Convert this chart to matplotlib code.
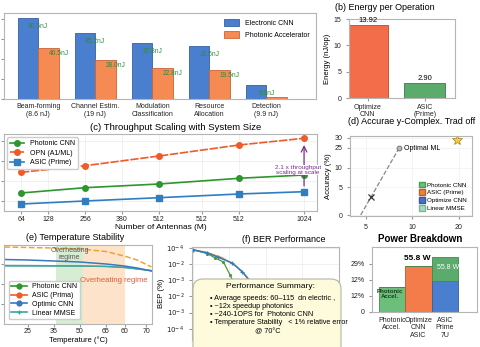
import numpy as np
import matplotlib.pyplot as plt
from matplotlib.patches import FancyBboxPatch, Patch
from matplotlib.lines import Line2D

plt.rcParams['font.family'] = ['Liberation Sans', 'DejaVu Sans']
plt.rcParams['axes.edgecolor'] = '#b5b5b5'
plt.rcParams['xtick.color'] = '#999999'
plt.rcParams['ytick.color'] = '#999999'
plt.rcParams['xtick.labelcolor'] = '#222222'
plt.rcParams['ytick.labelcolor'] = '#222222'
plt.rcParams['xtick.major.size'] = 2
plt.rcParams['ytick.major.size'] = 2
plt.rcParams['axes.linewidth'] = 0.8

W, H = 480, 347

# (a) energy per task
tasks = ['Beam-forming\n(8.6 nJ)', 'Channel Estim.\n(19 nJ)', 'Modulation\nClassification',
         'Resource\nAllocation', 'Detection\n(9.9 nJ)']
electronic = [81, 66, 56, 53, 14]
photonic = [51, 39, 31, 29, 2]
elec_labels = ['40.5nJ', '45.2nJ', '37.8nJ', '18.5nJ', '9.9nJ']
phot_labels = ['40.5nJ', '28.0nJ', '22.8nJ', '19.5nJ', '']

# (b) energy per operation
ops = ['Optimize\nCNN', 'ASIC\n(Prime)']
energy = [13.92, 2.90]

# (c) throughput scaling
antenna_ticks = ['64', '128', '256', '380', '512', '512', '512', '1024']
antenna_pos = [0, 0.73, 1.73, 2.73, 3.73, 4.89, 5.89, 7.65]
point_idx = [0, 2, 4, 6, 7]
opn_tp = [38.7, 45.3, 55, 66, 72.7]
photonic_tp = [18, 23.3, 27, 32.7, 36]
asic_tp = [7, 10, 13.3, 17, 19.3]

# (d) accuracy / complexity
trade_x = [4.43, 8.55]
trade_y = [0, 16.7]
cross_pt = (5.54, 4.6)
star_pt = (14.75, 18.75)
d_xticks = [5, 10, 15]
d_xlabels = ['5', '10', '20']
d_yticks = [0, 7, 11.8, 16.8, 19.3]
d_ylabels = ['0', '5', '10', '25', '30']

# (e) temperature stability
temps = [16, 25, 35, 45, 55, 62, 67, 72.5]
asic_t = [77, 76.5, 76, 75, 72.5, 68, 64, 57]
optimic_t = [64.5, 64, 63, 62, 60, 58, 56, 53]
mmse_t = [58, 58, 58, 58, 57.5, 56.5, 55, 53.5]
photonic_t = [58.6, 58.5, 58.3, 58, 57.6, 56.6, 55.2, 53.2]
e_xticks = [25, 35, 45, 55, 62.3, 70.4]
e_xlabels = ['25', '35', '50', '65', '60', '70']

# (f) BER
snr_b = [0, 2, 3.4, 5.4, 6.8, 8.5, 10]
ber_b = [4.88, 4.69, 4.44, 4.07, 3.52, 2.6, 1.5]
snr_o = [0, 2, 4, 6, 7, 9]
ber_o = [4.9, 4.72, 4.4, 3.85, 3.4, 2.2]
snr_g = [0, 2, 3, 4.2, 5.1, 6.5]
ber_g = [4.9, 4.65, 4.4, 4.13, 3.33, 2.0]
f_ylabels = ['$10^{-4}$', '$10^{-3}$', '$10^{-2}$', '$10^{-3}$', '$10^{-2}$', '$10^{-4}$']

# power breakdown
components = ['Photonic\nAccel.', 'Optimize\nCNN\nASIC', 'ASIC\nPrime\n7U']
power_base = [1.56, 2.9, 1.96]
power_top = [0, 0, 1.5]
p_ylabels = ['0', '12%', '12%', '29%']


def rect(l, t, r, b):
    return [l / W, 1 - b / H, (r - l) / W, (b - t) / H]


def ftext(x, y, s, **kw):
    fig.text(x / W, 1 - y / H, s, **kw)


fig = plt.figure(figsize=(4.8, 3.47), dpi=100)

# ---- (a)
ax = fig.add_axes(rect(4, 13, 316, 99))
x = np.arange(len(tasks))
bw = 0.36
ax.bar(x - bw / 2, electronic, bw, color='#4a7fcf', edgecolor='#35609f', lw=0.6, label='Electronic CNN')
ax.bar(x + bw / 2, photonic, bw, color='#f58a52', edgecolor='#c8643a', lw=0.6, label='Photonic Accelerator')
for i in range(len(tasks)):
    if elec_labels[i]:
        ax.annotate(elec_labels[i], (x[i], electronic[i]), xytext=(0, -6), textcoords='offset points',
                    ha='center', va='center', fontsize=4.8, color='#2e8b3e')
    if phot_labels[i]:
        ax.annotate(phot_labels[i], (x[i] + bw, photonic[i]), xytext=(0, -4), textcoords='offset points',
                    ha='center', va='center', fontsize=4.8, color='#2e8b3e')
ax.set_xticks(x)
ax.set_xticklabels(tasks, fontsize=5)
ax.set_yticks([0, 20, 40, 60, 80])
ax.set_yticklabels([])
ax.set_xlim(-0.6, 4.87)
ax.set_ylim(0, 86)
ax.tick_params(axis='x', length=0, pad=3)
ax.legend(loc='upper right', fontsize=5, frameon=False, handlelength=2.2, handleheight=1.2,
          bbox_to_anchor=(1.0, 1.0))

# ---- (b)
ax = fig.add_axes(rect(349, 19, 455, 98))
ax.bar([0, 1], energy, 0.72, color=['#f46d4a', '#5aab6c'], edgecolor=['#b84a30', '#3b7a48'], lw=0.6)
for i, v in enumerate(energy):
    ax.text(i, v + 0.15, f'{v:.2f}', ha='center', va='bottom', fontsize=5.5)
ax.set_xticks([0, 1])
ax.set_xticklabels(ops, fontsize=5, linespacing=1.0)
ax.tick_params(axis='x', pad=2)
ax.set_yticks([0, 5, 10, 15])
ax.tick_params(axis='y', labelsize=5)
ax.set_xlim(-0.33, 1.53)
ax.set_ylim(0, 15)
ax.set_ylabel('Energy (nJ/op)', fontsize=5.5, labelpad=2)
ftext(385, 7, '(b) Energy per Operation', ha='center', va='center', fontsize=6.5)

# ---- (c)
ax = fig.add_axes(rect(4, 134, 317, 211))
px = [antenna_pos[i] for i in point_idx]
ax.plot(px, photonic_tp, '-o', color='#2e962e', ms=4, lw=1.2, label='Photonic CNN')
ax.plot(px, opn_tp, '--o', color='#f05a28', ms=4, lw=1.2, dashes=(5, 1), label='OPN (A1/ML)')
ax.plot(px, asic_tp, '-s', color='#2f7ec1', ms=4, lw=1.2, label='ASIC (Prime)')
ax.annotate('', xy=(px[-1], opn_tp[-1] - 4), xytext=(px[-1], asic_tp[-1] + 3),
            arrowprops=dict(arrowstyle='->', color='#7b2d8e', lw=0.9))
ax.text(7.49, 41, '2.1 x throughput\nscaling at scale', ha='center', va='center', fontsize=4.6,
        color='#7b2d8e', linespacing=0.9,
        bbox=dict(boxstyle='square,pad=0.1', fc='white', ec='none'))
ax.set_xticks(antenna_pos)
ax.set_xticklabels(antenna_ticks, fontsize=5)
ax.tick_params(axis='x', pad=1.5)
ax.set_yticks([10, 30, 50, 70])
ax.set_yticklabels([])
ax.set_xlim(-0.46, 8.0)
ax.set_ylim(0, 77)
ax.grid(True, color='#ececec', lw=0.5)
ax.set_axisbelow(True)
ax.legend(loc='upper left', fontsize=5, frameon=True, framealpha=1, edgecolor='#cccccc',
          handlelength=2, borderpad=0.4, labelspacing=0.35)
ax.set_xlabel('Number of Antennas (M)', fontsize=6, labelpad=1)
ftext(176, 127, '(c) Throughput Scaling with System Size', ha='center', va='center', fontsize=6.8)

# ---- (d)
ax = fig.add_axes(rect(350, 136, 472, 216))
ax.plot(trade_x, trade_y, '--', color='#888888', lw=0.9)
ax.plot(trade_x[-1], trade_y[-1], 'o', ms=3.5, mfc='#bbbbbb', mec='#666666', mew=0.6)
ax.text(trade_x[-1] + 0.5, trade_y[-1], 'Optimal ML', fontsize=5, va='center')
ax.plot(*cross_pt, 'x', color='#333333', ms=4, mew=0.9)
ax.plot(*star_pt, '*', ms=8, mfc='#f5d040', mec='#a08020', mew=0.5)
ax.set_xticks(d_xticks)
ax.set_xticklabels(d_xlabels, fontsize=5)
ax.set_yticks(d_yticks)
ax.set_yticklabels(d_ylabels, fontsize=5)
ax.set_xlim(3.28, 16.4)
ax.set_ylim(-0.25, 19.75)
ax.grid(True, color='#f0f0f0', lw=0.5)
ax.set_ylabel('Accuracy (%)', fontsize=5.5, labelpad=2)
handles = [Patch(fc='#6cc07c', ec='#4a9a5a', label='Photonic CNN'),
           Patch(fc='#f0803c', ec='#c0602a', label='ASIC (Prime)'),
           Patch(fc='#4a72c4', ec='#345aa0', label='Optimize CNN'),
           Patch(fc='#a8dcc0', ec='#78b898', label='Linear MMSE')]
ax.legend(handles=handles, loc='lower right', fontsize=4.5, frameon=False, handlelength=1,
          handleheight=1, labelspacing=0.3, borderpad=0.3, handletextpad=0.4)
ftext(412, 122, '(d) Accurae y-Complex. Trad off', ha='center', va='center', fontsize=6.5)

# ---- (e)
ax = fig.add_axes(rect(4, 245, 152, 324))
ax.axvspan(35.8, 46.2, color='#d6ecd3', lw=0)
ax.axvspan(46.2, 62.3, color='#fde3c9', lw=0)
ax.plot(temps, asic_t, '--', color='#f2a230', lw=1.1)
ax.plot(temps, photonic_t, '-', color='#7a9a8a', lw=1.0)
ax.plot(temps, mmse_t, '-', color='#3aa6a0', lw=1.0)
ax.plot(temps, optimic_t, '-', color='#3a78c0', lw=1.1)
ax.text(41, 70, 'Overheating\nregime', fontsize=5, ha='center', va='center', color='#555555',
        linespacing=0.9)
ax.text(58, 43, 'Overheating regime', fontsize=5.5, ha='center', va='center', color='#e05a3a')
ax.set_xticks(e_xticks)
ax.set_xticklabels(e_xlabels, fontsize=5)
ax.tick_params(axis='x', pad=1)
ax.set_yticks([20, 40, 60])
ax.set_yticklabels([])
ax.set_xlim(15.8, 72.7)
ax.set_ylim(0, 79)
e_handles = [Line2D([], [], color='#2e962e', marker='o', ms=3.5, lw=1.2, label='Photonic CNN'),
             Line2D([], [], color='#f05a28', marker='o', ms=3.5, lw=1.2, label='ASIC (Prima)'),
             Line2D([], [], color='#3a78c0', marker='o', ms=3.5, lw=1.2, label='Optimic CNN'),
             Line2D([], [], color='#3aa6a0', marker='+', ms=3.5, lw=1.2, label='Linear MMSE')]
ax.legend(handles=e_handles, loc='lower left', fontsize=5, frameon=True, framealpha=1,
          edgecolor='#cccccc', handlelength=2.2, labelspacing=0.25, borderpad=0.35,
          bbox_to_anchor=(0.01, 0.02))
ax.set_xlabel('Temperature (°C)', fontsize=5.5, labelpad=0.5)
ftext(75, 237, '(e) Temperature Stability', ha='center', va='center', fontsize=6.5)

# ---- (f)
ax = fig.add_axes(rect(192, 247, 339, 340))
ax.plot(snr_o, ber_o, '-', color='#f5892e', lw=1.0)
ax.plot(snr_g, ber_g, '-', color='#4a9a3a', lw=0.9, marker='.', ms=2.5)
ax.plot(snr_b, ber_b, '-', color='#2f7ec1', lw=1.1, marker='+', ms=3, mew=0.8)
ax.set_yticks(range(len(f_ylabels)))
ax.set_yticklabels(f_ylabels, fontsize=5)
ax.set_xticks([0, 5, 10, 15, 20])
ax.set_xticklabels([])
ax.set_xlim(-0.1, 20)
ax.set_ylim(-0.7, 5.06)
ax.grid(True, color='#ececec', lw=0.5)
ax.set_ylabel('BEP (%)', fontsize=5.5, labelpad=1)
ftext(284, 239, '(f) BER Performance', ha='center', va='center', fontsize=6.5)

box = FancyBboxPatch((1.93, -0.15), 1.48, 0.83, boxstyle='round,pad=0,rounding_size=0.1',
                     transform=fig.dpi_scale_trans, fc='#fdfbdc', ec='#b5b5a5', lw=0.8, zorder=5)
fig.patches.append(box)
ftext(270, 286, 'Performance Summary:', ha='center', va='center', fontsize=6, zorder=6)
summary = ['• Average speeds: 60–115  dn electric ,',
           '• ~12x speedup photonics',
           '• ~240-1OPS for  Photonic CNN',
           '• Temperature Stability   < 1% relative error']
for k, line in enumerate(summary):
    ftext(210, 298 + k * 8.3, line, ha='left', va='center', fontsize=5.2, zorder=6)
ftext(268, 332, '@ 70°C', ha='center', va='center', fontsize=5.2, zorder=6)

# ---- power breakdown
ax = fig.add_axes(rect(372, 247, 477, 312))
xp = np.arange(len(components))
ax.bar(xp, power_base, 1.0, color=['#6bbf7a', '#f47c4a', '#4a7fcf'],
       edgecolor=['#3e8a4e', '#b85a32', '#335f9f'], lw=0.6)
ax.bar(xp, power_top, 1.0, bottom=power_base, color='#5aab6c', edgecolor='#3e8a4e', lw=0.6)
ax.text(xp[0] - 0.08, power_base[0] - 0.12, 'Photonic\nAccel.', ha='center', va='top', fontsize=4.4,
        fontweight='bold', color='#1e3a22', linespacing=0.9)
ax.text(xp[1] - 0.05, power_base[1] + 0.25, '55.8 W', ha='center', va='bottom', fontsize=6,
        fontweight='bold')
ax.text(xp[2] + 0.1, power_base[2] + power_top[2] * 0.55, '55.8 W', ha='center', va='center',
        fontsize=5, color='white')
ax.set_xticks(xp)
ax.set_xticklabels(components, fontsize=5, linespacing=1.1)
ax.set_yticks(range(len(p_ylabels)))
ax.set_yticklabels(p_ylabels, fontsize=5)
ax.tick_params(axis='x', length=0)
ax.set_xlim(-0.75, 3.2)
ax.set_ylim(0, 4.06)
ftext(420, 239, 'Power Breakdown', ha='center', va='center', fontsize=7, fontweight='bold')

fig.savefig('out.png', dpi=100)
